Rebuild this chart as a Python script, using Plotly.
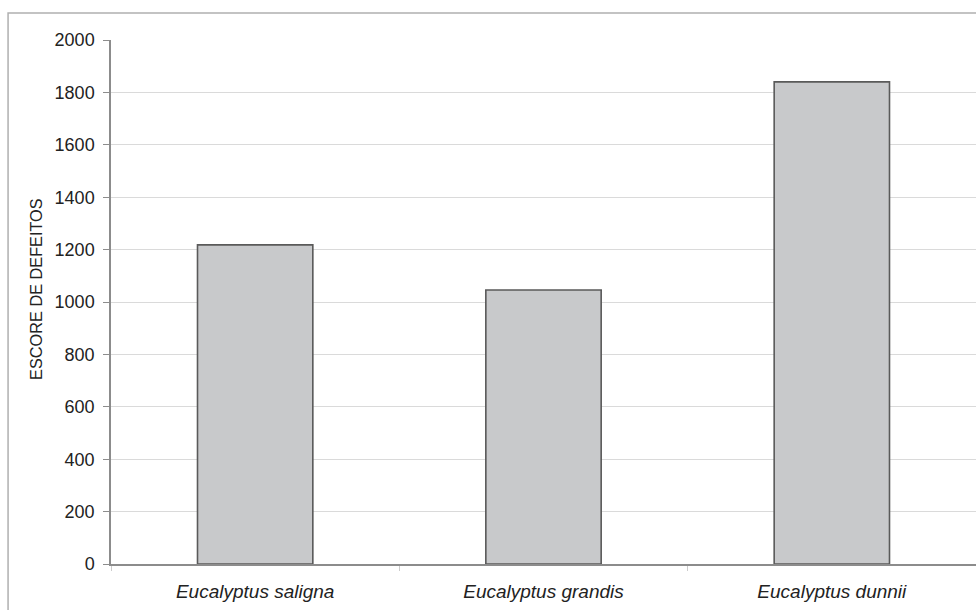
import plotly.graph_objects as go

categories = ["Eucalyptus saligna", "Eucalyptus grandis", "Eucalyptus dunnii"]
values = [1218, 1046, 1840]
y_ticks = [0, 200, 400, 600, 800, 1000, 1200, 1400, 1600, 1800, 2000]
y_title = "ESCORE DE DEFEITOS"

fig = go.Figure()
fig.add_trace(go.Bar(
    x=[f"<i>{c}</i>" for c in categories],
    y=values,
    width=0.4,
    marker=dict(color="#c8c9cb", line=dict(color="#5a5a5a", width=1.6)),
))

fig.update_layout(
    width=976, height=610,
    margin=dict(l=111, r=0, t=40, b=46),
    paper_bgcolor="white", plot_bgcolor="white",
    font=dict(family="Liberation Sans, Arial, sans-serif", size=18, color="#222"),
    showlegend=False,
    xaxis=dict(
        showline=True, linecolor="#8c8c8c", linewidth=1.5,
        ticks="outside", tickson="boundaries", ticklen=5, tickcolor="#cccccc",
        showgrid=False, tickfont=dict(size=19, color="#222"),
        ticklabelstandoff=9,
    ),
    yaxis=dict(
        range=[0, 2000], tickvals=y_ticks,
        showline=True, linecolor="#8c8c8c", linewidth=1.5,
        ticks="outside", ticklen=6, tickcolor="#8c8c8c",
        showgrid=True, gridcolor="#dadada", gridwidth=1,
        zeroline=False,
        tickfont=dict(size=18, color="#222"),
        ticklabelstandoff=5,
    ),
)

fig.add_annotation(text=y_title, textangle=-90, xref="paper", yref="paper",
                   x=-0.0867, y=0.525, xanchor="center", yanchor="middle",
                   showarrow=False, font=dict(size=16.3, color="#222"))

fig.add_shape(type="rect", xref="paper", yref="paper",
              x0=-0.119, y0=-0.3, x1=1.2, y1=1.0515,
              line=dict(color="#b0b0b0", width=1.5), fillcolor="rgba(0,0,0,0)", layer="below")

fig.write_html("out.html", config={"displayModeBar": False},
               post_script="document.body.style.margin='0';document.body.style.overflow='hidden';")
